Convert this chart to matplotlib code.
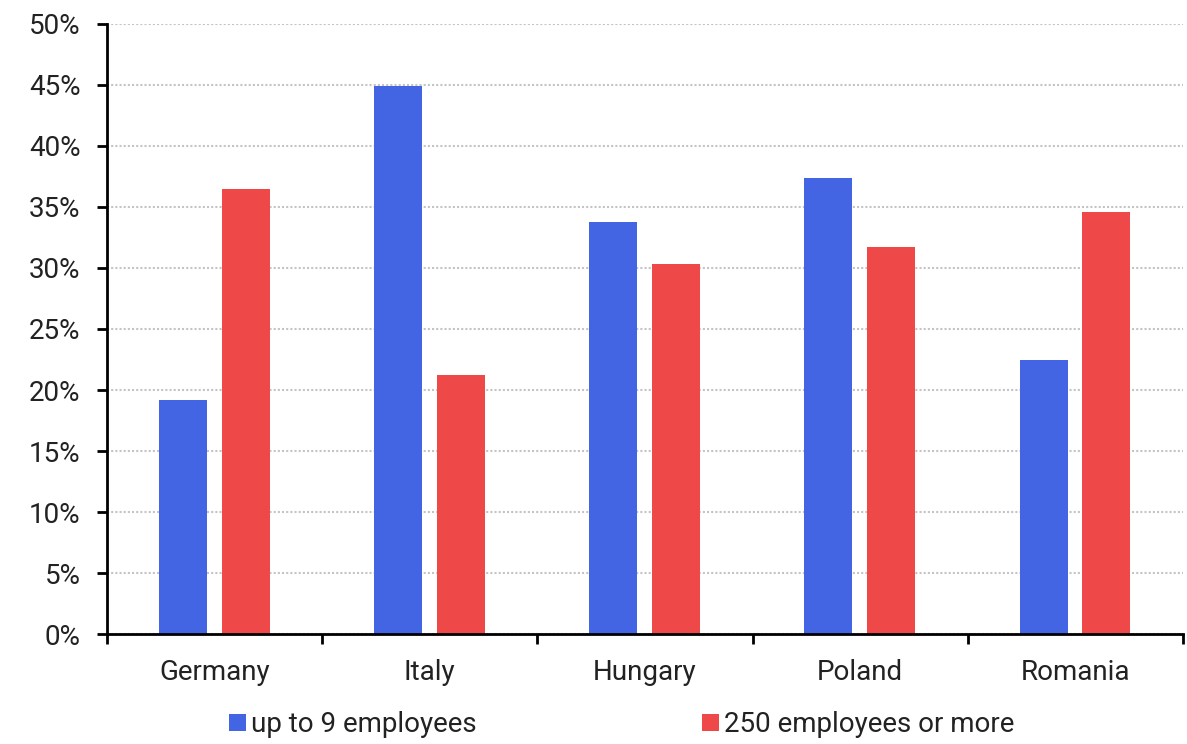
import numpy as np
import matplotlib.pyplot as plt
from matplotlib.ticker import PercentFormatter, FixedLocator

## Datos
countries = ['Germany', 'Italy', 'Hungary', 'Poland', 'Romania']
small = [19.2, 44.9, 33.8, 37.4, 22.5]
large = [36.5, 21.2, 30.3, 31.7, 34.6]
#############################

plt.rcParams['font.family'] = ['Roboto', 'DejaVu Sans']

fig = plt.figure(figsize=(11.87, 7.44), dpi=100)
ax = fig.add_axes([0.0901, 0.1478, 0.9065, 0.82])

x = np.arange(len(countries))
w = 0.223
ax.bar(x - 0.148, small, w, color='#4465E3', label='up to 9 employees', zorder=3)
ax.bar(x + 0.144, large, w, color='#EE4848', label='250 employees or more', zorder=3)

ax.set_xlim(-0.5, len(countries) - 0.5)
ax.set_ylim(0, 50)
ax.set_yticks(np.arange(0, 51, 5))
ax.yaxis.set_major_formatter(PercentFormatter(decimals=0))
ax.set_xticks(x)
ax.set_xticklabels(countries)
ax.xaxis.set_minor_locator(FixedLocator(np.arange(-0.5, len(countries), 1)))
ax.tick_params(axis='x', which='major', length=0, pad=18, labelsize=20, colors='#222222')
ax.tick_params(axis='x', which='minor', length=7, width=2)
ax.tick_params(axis='y', length=7, width=2, pad=12, labelsize=20, labelcolor='#222222')

ax.grid(axis='y', color='#c4c4c4', linestyle=(0, (1, 1)), linewidth=1.5, zorder=0)
for s in ['top', 'right']:
    ax.spines[s].set_visible(False)
for s in ['left', 'bottom']:
    ax.spines[s].set_linewidth(2)
    ax.spines[s].set_zorder(4)

fig.legend(loc='center', bbox_to_anchor=(0.524, 0.026), ncol=2, frameon=False,
           fontsize=20, handlelength=0.6, handleheight=0.6, handletextpad=0.2,
           columnspacing=8.1, labelcolor='#222222')

fig.savefig('out.png')
